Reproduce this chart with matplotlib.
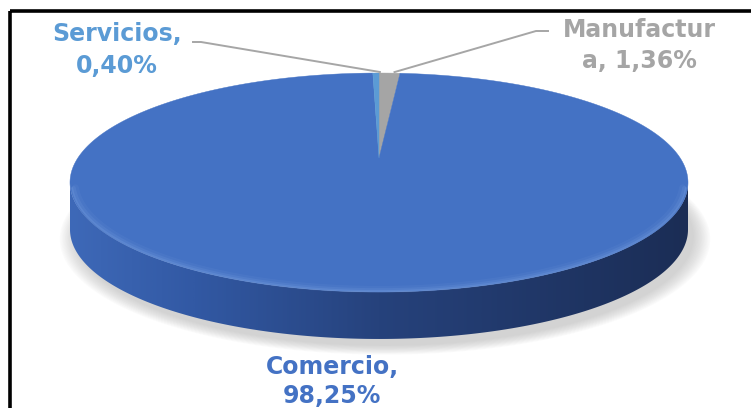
import numpy as np
import matplotlib
matplotlib.use("Agg")
import matplotlib.pyplot as plt
from matplotlib.patches import Polygon, Rectangle
from matplotlib.colors import LinearSegmentedColormap

# ---------------- data ----------------
categories = ["Manufactura", "Comercio", "Servicios"]
values = [1.36, 98.25, 0.40]
slice_colors = ["#A5A5A5", "#4472C4", "#5B9BD5"]
label_colors = ["#A5A5A5", "#4472C4", "#5B9BD5"]

# ---------------- layout ----------------
W, H = 751, 408
fig = plt.figure(figsize=(7.51, 4.08), dpi=100)
ax = fig.add_axes([0, 0, 1, 1])
ax.set_xlim(0, W)
ax.set_ylim(H, 0)
ax.axis("off")

cx, cy0 = 379.0, 158.0      # projected centre of the pie top
k = -0.2237                 # perspective factor
b = 104.0                   # vertical radius factor
depth = 47.0                # pie thickness
half_width = 309.0

th_all = np.linspace(0, 2 * np.pi, 2000)
a = half_width / np.max(np.abs(np.sin(th_all) / (1 + k * (-np.cos(th_all)))))


def proj(theta, r=1.0, dy=0.0, dx=0.0):
    X = r * np.sin(theta)
    Y = -r * np.cos(theta)
    s = 1.0 / (1.0 + k * Y)
    return cx + a * X * s + dx, cy0 + b * Y * s + dy


# leftmost / rightmost points of the top ellipse
xs_all, ys_all = proj(th_all)
th_r = th_all[np.argmax(xs_all)]
th_l = th_all[np.argmin(xs_all)]

# ---------------- soft shadow ----------------
for i in range(12):
    grow = 1.0 + 0.0045 * i
    sx, sy = proj(th_all, r=grow, dy=depth + 7, dx=6)
    ax.add_patch(Polygon(np.column_stack([sx, sy]), closed=True,
                         facecolor="#a0a0a0", edgecolor="none",
                         alpha=0.045, zorder=1))

# ---------------- side of the pie ----------------
arc = np.linspace(th_r, th_l, 400)
tx, ty = proj(arc)
bx, by = proj(arc[::-1], dy=depth)
side_poly = Polygon(np.column_stack([np.r_[tx, bx], np.r_[ty, by]]),
                    closed=True, facecolor="none", edgecolor="none", zorder=2)
ax.add_patch(side_poly)
side_cmap = LinearSegmentedColormap.from_list(
    "side", [(0.0, "#3E69B8"), (0.2, "#3259A4"), (0.5, "#26427C"),
             (1.0, "#1B2D55")])
grad = np.linspace(0, 1, 400).reshape(1, -1)
im = ax.imshow(grad, cmap=side_cmap, aspect="auto",
               extent=[cx - half_width - 2, cx + half_width + 2,
                       cy0 + 200, cy0 - 10],
               zorder=2, interpolation="bilinear")
im.set_clip_path(side_poly)
ax.set_xlim(0, W)
ax.set_ylim(H, 0)

# ---------------- top face wedges ----------------
total = float(np.sum(values))
start = 0.0
mids = []
for val, col in zip(values, slice_colors):
    ang0 = start / total * 2 * np.pi
    ang1 = (start + val) / total * 2 * np.pi
    t = np.linspace(ang0, ang1, max(3, int(600 * val / total) + 3))
    px, py = proj(t)
    ax.add_patch(Polygon(np.column_stack([np.r_[cx, px], np.r_[cy0, py]]),
                         closed=True, facecolor=col, edgecolor=col,
                         lw=0.3, zorder=3))
    mids.append((ang0 + ang1) / 2)
    start += val

# soft bevel highlight along the front rim
for lw, al, rr in [(5, 0.08, 0.985), (3, 0.12, 0.99), (1.5, 0.18, 0.995)]:
    hx, hy = proj(np.linspace(th_r + 0.05, th_l - 0.05, 300), r=rr)
    ax.plot(hx, hy, color="#8DB0EA", lw=lw, alpha=al, zorder=4,
            solid_capstyle="round")

# ---------------- labels ----------------
def fmt_pct(v):
    return f"{v:.2f}".replace(".", ",") + "%"


def label_lines(cat, v):
    if len(cat) > 10:
        return cat[:10], cat[10:] + ", " + fmt_pct(v)
    return cat + ",", fmt_pct(v)


label_pos = {"Manufactura": (639, 37, 68),
             "Comercio": (332, 374, 403),
             "Servicios": (117, 41, 73)}
fs = 17
for cat, v, col in zip(categories, values, label_colors):
    l1, l2 = label_lines(cat, v)
    x, b1, b2 = label_pos[cat]
    ax.text(x, b1, l1, ha="center", va="baseline", fontsize=fs,
            fontweight="bold", color=col, family="DejaVu Sans", zorder=6)
    ax.text(x, b2, l2, ha="center", va="baseline", fontsize=fs,
            fontweight="bold", color=col, family="DejaVu Sans", zorder=6)

# leader lines
lead_col = "#A6A6A6"
ex, ey = proj(mids[2], r=1.0)
ax.plot([193, 201, ex + 4], [42, 42, ey - 1], color=lead_col, lw=1.4, zorder=5)
ex, ey = proj(mids[0], r=1.0)
ax.plot([548, 536, ex + 5], [31, 31, ey - 1], color=lead_col, lw=1.4, zorder=5)

# ---------------- frame (top and left visible) ----------------
ax.add_patch(Rectangle((10, 11), 900, 500, fill=False, edgecolor="black",
                       lw=2.6, zorder=7, clip_on=False))

fig.savefig("out.png", dpi=100, facecolor="white")
